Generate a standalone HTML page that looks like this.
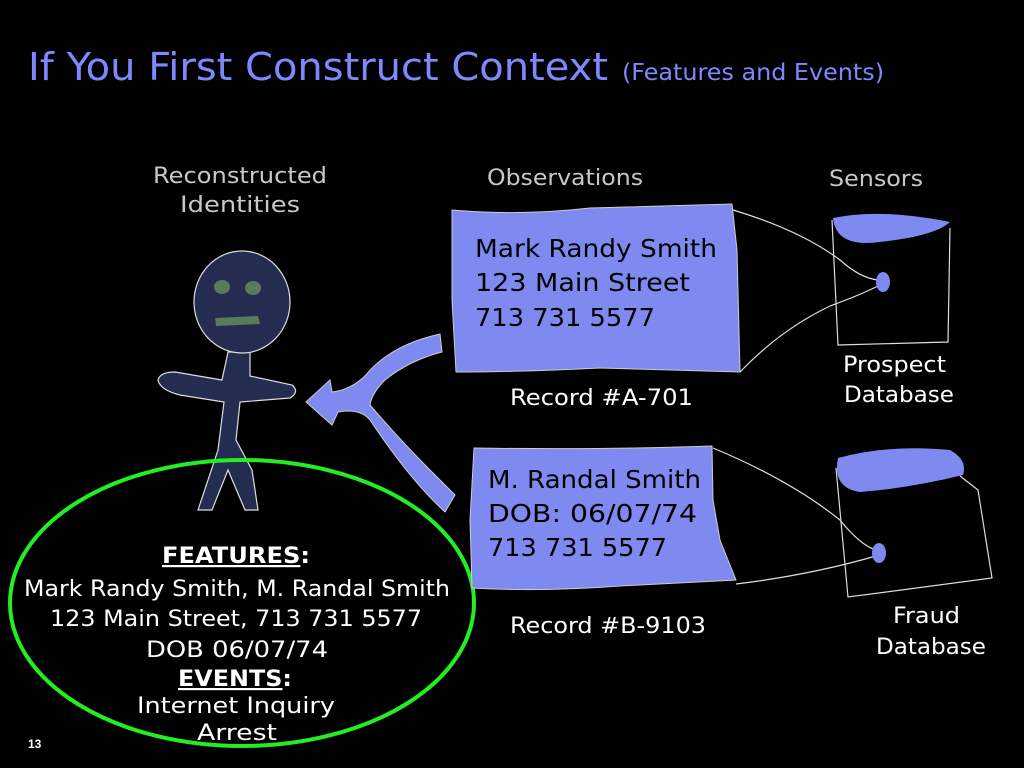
<!DOCTYPE html>
<html><head><style>
body{margin:0;background:#000;}
svg{display:block}
text{font-family:"DejaVu Sans","Liberation Sans",sans-serif;}
</style></head><body>
<svg width="1024" height="768" viewBox="0 0 1024 768">
<rect width="1024" height="768" fill="#000"/>
<text x="28" y="80" font-size="38" fill="#8088ff" textLength="580" lengthAdjust="spacingAndGlyphs">If You First Construct Context</text>
<text x="622" y="80" font-size="23" fill="#8088ff" textLength="262" lengthAdjust="spacingAndGlyphs">(Features and Events)</text>
<g font-size="22" fill="#c8c8c8">
<text x="153" y="183" textLength="174" lengthAdjust="spacingAndGlyphs">Reconstructed</text>
<text x="180" y="212" textLength="120" lengthAdjust="spacingAndGlyphs">Identities</text>
<text x="487" y="185" textLength="156" lengthAdjust="spacingAndGlyphs">Observations</text>
<text x="829" y="186" textLength="94" lengthAdjust="spacingAndGlyphs">Sensors</text>
</g>

<!-- connector arrow -->
<path d="M306,402 L330,380 L332,392 Q350,390 365,376 Q390,345 440,334 L442,352 Q410,360 385,380 Q372,393 370,405 Q400,440 430,470 L455,495 L445,512 Q410,480 370,420 Q360,408 338,412 L332,425 Z" fill="#7f8af0" stroke="#ccc" stroke-width="1"/>

<!-- stick figure -->
<g fill="#252c52" stroke="#ddd" stroke-width="1.2">
<path d="M228,352 L250,352 L250,376 L292,385 Q300,392 290,398 L240,402 L236,440 L252,470 L258,510 L245,510 L228,470 L212,510 L198,510 L218,450 L224,402 L180,395 Q160,390 158,380 Q160,372 175,372 L222,380 Z"/>
<ellipse cx="242" cy="302" rx="48" ry="51"/>
</g>
<g fill="#5a7a5a">
<ellipse cx="222" cy="287" rx="8" ry="7"/>
<ellipse cx="253" cy="288" rx="8" ry="7"/>
<path d="M215,318 L258,316 L260,324 L216,326 Z"/>
</g>

<!-- green ellipse -->
<ellipse cx="242" cy="603" rx="232" ry="143" fill="none" stroke="#22ee22" stroke-width="4"/>
<g font-size="22" fill="#fff">
<text x="162" y="563" font-weight="bold" textLength="148" lengthAdjust="spacingAndGlyphs"><tspan text-decoration="underline">FEATURES</tspan>:</text>
<text x="24" y="596" textLength="426" lengthAdjust="spacingAndGlyphs">Mark Randy Smith, M. Randal Smith</text>
<text x="50" y="626" textLength="372" lengthAdjust="spacingAndGlyphs">123 Main Street, 713 731 5577</text>
<text x="146" y="657" textLength="182" lengthAdjust="spacingAndGlyphs">DOB 06/07/74</text>
<text x="178" y="686" font-weight="bold" textLength="114" lengthAdjust="spacingAndGlyphs"><tspan text-decoration="underline">EVENTS</tspan>:</text>
<text x="137" y="713" textLength="198" lengthAdjust="spacingAndGlyphs">Internet Inquiry</text>
<text x="197" y="740" textLength="80" lengthAdjust="spacingAndGlyphs">Arrest</text>
</g>
<text x="28" y="748" font-size="12" fill="#fff" font-weight="bold" style="font-family:'Liberation Sans',sans-serif">13</text>

<!-- records -->
<path d="M452,210 Q520,216 590,208 L732,204 L737,250 L740,372 L600,368 Q520,372 456,372 L452,300 Z" fill="#7f8af0" stroke="#ccc" stroke-width="1"/>
<g font-size="25" fill="#000">
<text x="475" y="257" textLength="242" lengthAdjust="spacingAndGlyphs">Mark Randy Smith</text>
<text x="475" y="291" textLength="215" lengthAdjust="spacingAndGlyphs">123 Main Street</text>
<text x="475" y="326" textLength="180" lengthAdjust="spacingAndGlyphs">713 731 5577</text>
</g>
<path d="M474,448 Q600,450 712,446 L713,500 L720,540 L736,580 L620,586 Q540,592 472,588 L470,520 Z" fill="#7f8af0" stroke="#ccc" stroke-width="1"/>
<g font-size="25" fill="#000">
<text x="488" y="488" textLength="213" lengthAdjust="spacingAndGlyphs">M. Randal Smith</text>
<text x="488" y="522" textLength="209" lengthAdjust="spacingAndGlyphs">DOB: 06/07/74</text>
<text x="488" y="556" textLength="179" lengthAdjust="spacingAndGlyphs">713 731 5577</text>
</g>
<g font-size="22" fill="#fff">
<text x="510" y="405" textLength="183" lengthAdjust="spacingAndGlyphs">Record #A-701</text>
<text x="510" y="633" textLength="196" lengthAdjust="spacingAndGlyphs">Record #B-9103</text>
</g>

<!-- sensors -->
<g fill="none" stroke="#ddd" stroke-width="1.2">
<path d="M733,210 Q800,230 840,260 Q860,278 878,280"/>
<path d="M740,372 Q780,330 830,306 Q860,295 878,286"/>
<path d="M832,220 L838,345 L948,342 L950,228"/>
<path d="M713,448 Q790,480 840,520 Q860,545 876,550"/>
<path d="M736,584 Q810,575 876,556"/>
<path d="M836,468 L848,597 L992,578 L978,490 L960,476"/>
</g>
<path d="M833,218 Q880,208 950,222 Q935,236 880,242 Q836,248 833,218 Z" fill="#7f8af0"/>
<ellipse cx="883" cy="282" rx="7" ry="10" fill="#7f8af0"/>
<path d="M838,458 Q890,444 950,450 Q968,460 963,475 Q910,488 860,492 Q832,488 838,458 Z" fill="#7f8af0"/>
<ellipse cx="879" cy="553" rx="7" ry="10" fill="#7f8af0"/>
<g font-size="22" fill="#fff">
<text x="843" y="372" textLength="103" lengthAdjust="spacingAndGlyphs">Prospect</text>
<text x="844" y="402" textLength="110" lengthAdjust="spacingAndGlyphs">Database</text>
<text x="893" y="623" textLength="67" lengthAdjust="spacingAndGlyphs">Fraud</text>
<text x="876" y="654" textLength="110" lengthAdjust="spacingAndGlyphs">Database</text>
</g>
</svg>
</body></html>
